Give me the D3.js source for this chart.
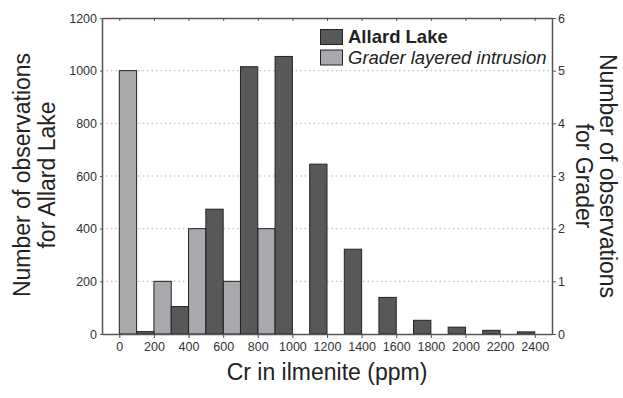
<!DOCTYPE html>
<html>
<head>
<meta charset="utf-8">
<script src="https://cdn.jsdelivr.net/npm/d3@7"></script>
<style>
  body { margin: 0; background: #fff; }
  svg text { font-family: 'Liberation Sans', Arial, sans-serif; }
</style>
</head>
<body>
<svg width="623" height="398"></svg>
<script>
// bins of 200 ppm (lower edge)
let allardBins = [0, 200, 400, 600, 800, 1000, 1200, 1400, 1600, 1800, 2000, 2200];
let allardCounts = [9, 104, 474, 1015, 1054, 645, 322, 139, 52, 26, 14, 8];
let graderBins = [0, 200, 400, 600, 800];
let graderCounts = [5, 1, 2, 1, 2];
let xTicks = [0, 200, 400, 600, 800, 1000, 1200, 1400, 1600, 1800, 2000, 2200, 2400];
let leftTicks = [0, 200, 400, 600, 800, 1000, 1200];
let rightTicks = [0, 1, 2, 3, 4, 5, 6];

let darkFill = '#575859';
let lightFill = '#a8a9ac';

let svg = d3.select('svg');
let mLeft = 102, mRight = 552, mTop = 18, mBottom = 334;

let x = d3.scaleLinear().domain([-100, 2500]).range([mLeft, mRight]);
let yL = d3.scaleLinear().domain([0, 1200]).range([mBottom, mTop]);
let yR = d3.scaleLinear().domain([0, 6]).range([mBottom, mTop]);

// grid
svg.append('g')
  .selectAll('line')
  .data(leftTicks.filter(d => d > 0 && d < 1200))
  .enter()
  .append('line')
  .attr('x1', mLeft).attr('x2', mRight)
  .attr('y1', d => yL(d)).attr('y2', d => yL(d))
  .attr('stroke', '#b5b5b5')
  .attr('stroke-width', 1)
  .attr('stroke-dasharray', '1.5,3');

// bars: grader in left half of each bin, allard in right half
svg.append('g')
  .selectAll('rect')
  .data(graderBins.map((b, i) => ({ b: b, v: graderCounts[i] })))
  .enter()
  .append('rect')
  .attr('x', d => x(d.b))
  .attr('width', d => x(d.b + 100) - x(d.b))
  .attr('y', d => yR(d.v))
  .attr('height', d => mBottom - yR(d.v))
  .attr('fill', lightFill)
  .attr('stroke', '#222')
  .attr('stroke-width', 1);

svg.append('g')
  .selectAll('rect')
  .data(allardBins.map((b, i) => ({ b: b, v: allardCounts[i] })))
  .enter()
  .append('rect')
  .attr('x', d => x(d.b + 100))
  .attr('width', d => x(d.b + 200) - x(d.b + 100))
  .attr('y', d => yL(d.v))
  .attr('height', d => mBottom - yL(d.v))
  .attr('fill', darkFill)
  .attr('stroke', '#222')
  .attr('stroke-width', 1);

// axes
let axisColor = '#555';
let fmt = d3.format('d');
let bottomAxis = svg.append('g')
  .attr('transform', 'translate(0,' + mBottom + ')')
  .call(d3.axisBottom(x).tickValues(xTicks).tickSize(4).tickSizeOuter(0).tickFormat(fmt));
let topAxis = svg.append('g')
  .attr('transform', 'translate(0,' + mTop + ')')
  .call(d3.axisBottom(x).tickValues(xTicks).tickSize(3).tickSizeOuter(0).tickFormat(''));
let leftAxis = svg.append('g')
  .attr('transform', 'translate(' + mLeft + ',0)')
  .call(d3.axisLeft(yL).tickValues(leftTicks).tickSize(2).tickSizeOuter(0).tickFormat(fmt));
let rightAxis = svg.append('g')
  .attr('transform', 'translate(' + mRight + ',0)')
  .call(d3.axisRight(yR).tickValues(rightTicks).tickSize(4).tickSizeOuter(0).tickFormat(fmt));

[bottomAxis, topAxis, leftAxis, rightAxis].forEach(function(a) {
  a.attr('font-family', null);
  a.select('.domain').attr('stroke', axisColor).attr('stroke-width', 1.5);
  a.selectAll('.tick line').attr('stroke', axisColor);
  a.selectAll('.tick text')
    .attr('fill', '#333')
    .style('font-size', '12.5px');
});
bottomAxis.selectAll('.tick text').attr('y', 17).attr('dy', 0);
leftAxis.selectAll('.tick text').attr('x', -5);
rightAxis.selectAll('.tick text').attr('x', 6);

// titles
svg.append('text')
  .attr('x', x(1200)).attr('y', 380)
  .attr('text-anchor', 'middle')
  .style('font-size', '23px')
  .attr('fill', '#222')
  .text('Cr in ilmenite (ppm)');

let lt = svg.append('text')
  .attr('transform', 'translate(30,175) rotate(-90)')
  .attr('text-anchor', 'middle')
  .style('font-size', '23px')
  .attr('fill', '#222');
lt.append('tspan').attr('x', 0).attr('dy', 0).text('Number of observations');
lt.append('tspan').attr('x', 0).attr('dy', 25).text('for Allard Lake');

let rt = svg.append('text')
  .attr('transform', 'translate(600,176) rotate(90)')
  .attr('text-anchor', 'middle')
  .style('font-size', '23px')
  .attr('fill', '#222');
rt.append('tspan').attr('x', 0).attr('dy', 0).text('Number of observations');
rt.append('tspan').attr('x', 0).attr('dy', 24).text('for Grader');

// legend
let legendItems = [
  { label: 'Allard Lake', fill: darkFill, weight: 'bold', style: 'normal' },
  { label: 'Grader layered intrusion', fill: lightFill, weight: 'normal', style: 'italic' }
];
let legend = svg.append('g');
legendItems.forEach(function(it, i) {
  let yy = 29.5 + i * 20.5;
  legend.append('rect')
    .attr('x', 320.5).attr('y', yy)
    .attr('width', 22).attr('height', 15)
    .attr('fill', it.fill)
    .attr('stroke', '#222')
    .attr('stroke-width', 1);
  legend.append('text')
    .attr('x', 348).attr('y', yy + 13.5)
    .style('font-size', '18.5px')
    .style('font-weight', it.weight)
    .style('font-style', it.style)
    .attr('fill', '#222')
    .text(it.label);
});
</script>
</body>
</html>
